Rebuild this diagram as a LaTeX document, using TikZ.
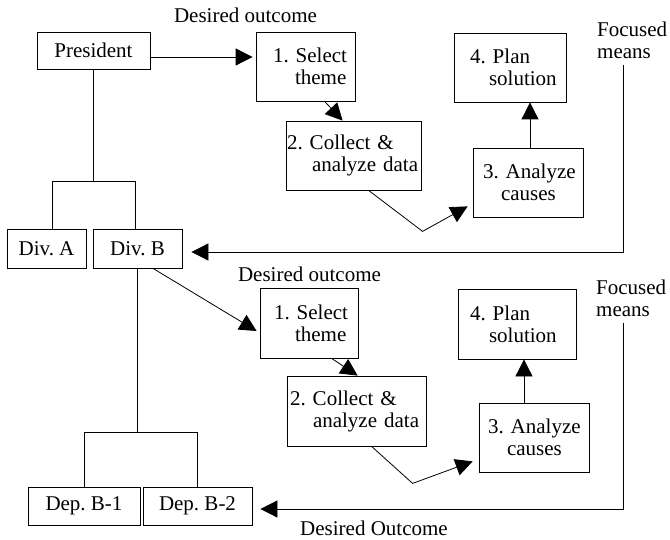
\documentclass[tikz,border=0pt]{standalone}
\usepackage{fontspec}
\setmainfont{Liberation Serif}
\usetikzlibrary{arrows.meta,calc}
\frenchspacing
\begin{document}
\begin{tikzpicture}[x=1pt,y=-1pt,
  every node/.style={font=\fontsize{21}{22}\selectfont\frenchspacing},
  box/.style={draw, line width=0.8pt, inner sep=0pt, align=center},
  txtbox/.style={box, align=left},
  lbl/.style={inner sep=0pt},
  wire/.style={line width=0.8pt},
  arr/.style={wire, -{Triangle[length=17pt,width=17pt]}},
]
\useasboundingbox (0,0) rectangle (670,540);

% ---------- upper level: president and divisions ----------
\node[box, minimum width=113pt, minimum height=37pt] (pres) at (93.5,50.5) {President};
\node[box, minimum width=79pt, minimum height=39pt] (diva) at (46.5,248.5) {Div. A};
\node[box, minimum width=89pt, minimum height=39pt] (divb) at (137.5,248.5) {Div. B};

\node[txtbox, text width=99pt, minimum height=69pt] (sel1) at (305.5,66.5)
  {\hspace*{17pt}1. Select\\\hspace*{39pt}theme};
\node[txtbox, text width=135pt, minimum height=69pt] (col1) at (353.5,155.5)
  {\hspace*{1pt}2. Collect \&\\\hspace*{26pt}analyze data};
\node[txtbox, text width=112pt, minimum height=69pt] (plan1) at (510,67.5)
  {\hspace*{16pt}4. Plan\\\hspace*{35pt}solution};
\node[txtbox, text width=110pt, minimum height=69pt] (ana1) at (528,182.5)
  {\hspace*{10pt}3. Analyze\\\hspace*{28pt}causes};

\node[lbl, anchor=base] (do1) at (245.5,23) {Desired outcome};
\node[lbl, anchor=north west, align=left] (fm1) at (597,22) {Focused\\means};

% ---------- lower level: division B and departments ----------
\node[box, minimum width=112pt, minimum height=38pt] (depb1) at (84,506) {Dep. B-1};
\node[box, minimum width=109pt, minimum height=38pt] (depb2) at (197.5,506) {Dep. B-2};

\node[txtbox, text width=98pt, minimum height=70pt] (sel2) at (309,323)
  {\hspace*{14pt}1. Select\\\hspace*{35pt}theme};
\node[txtbox, text width=139pt, minimum height=70pt] (col2) at (356.5,411)
  {\hspace*{3pt}2. Collect \&\\\hspace*{26pt}analyze data};
\node[txtbox, text width=118pt, minimum height=70pt] (plan2) at (517,324)
  {\hspace*{12pt}4. Plan\\\hspace*{31pt}solution};
\node[txtbox, text width=110pt, minimum height=69pt] (ana2) at (534,437.5)
  {\hspace*{9pt}3. Analyze\\\hspace*{28pt}causes};

\node[lbl, anchor=base] (do2) at (309.5,282) {Desired outcome};
\node[lbl, anchor=north west, align=left] (fm2) at (596,280) {Focused\\means};
\node[lbl, anchor=base] (do3) at (374,535) {Desired Outcome};

% ---------- organisation tree ----------
\draw[wire] (pres.south) -- ++(0,113);
\draw[wire] ($(diva.north)+(5.5,0)$) -- ++(0,-47) -| ($(divb.north)+(-2.5,0)$);
\draw[wire] (divb.south) -- ++(0,165);
\draw[wire] (depb1.north) -- ++(0,-54) -| (depb2.north);

% ---------- upper improvement cycle ----------
\coordinate (p0) at ($(pres.east)+(0,6.5)$);
\draw[arr, shorten >=3pt] (p0) -- (p0 -| sel1.west);
\draw[arr] ($(sel1.south west)+(69,0)$) -- ($(col1.north west)+(57,0)$);
\draw[arr] ($(col1.south west)+(83,0)$) -- ++(54,41) -- ($(ana1.south west)+(-5,-11)$);
\coordinate (a1) at ($(ana1.north)+(2,0)$);
\draw[arr] (a1) -- (a1 |- plan1.south);
\coordinate (f1) at (623,65);
\draw[arr, shorten >=9pt] (f1) |- ($(divb.east)+(0,3.5)$);

% ---------- lower improvement cycle ----------
\draw[arr] ($(divb.south)+(15.5,0)$) -- ($(sel2.west)+(-3,8)$);
\draw[arr] ($(sel2.south west)+(72,0)$) -- ($(col2.north west)+(71,0)$);
\draw[arr] ($(col2.south west)+(85,0)$) -- ++(41,37) -- ($(ana2.south west)+(-6,-11)$);
\coordinate (a2) at ($(ana2.north)+(-10,0)$);
\draw[arr] (a2) -- (a2 |- plan2.south);
\coordinate (f2) at (623,323);
\draw[arr, shorten >=8pt] (f2) |- ($(depb2.east)+(0,3)$);
\end{tikzpicture}
\end{document}
